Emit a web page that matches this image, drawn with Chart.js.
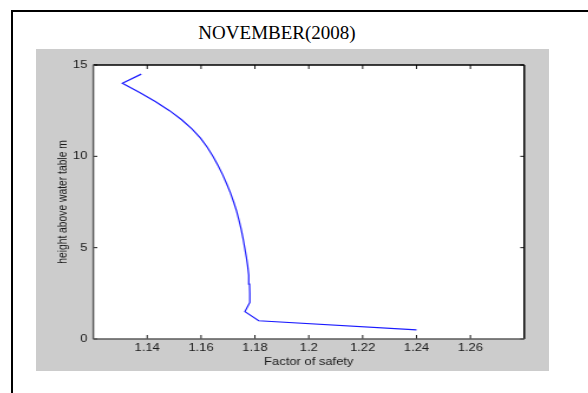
<!DOCTYPE html>
<html>
<head>
<meta charset="utf-8">
<script src="https://cdn.jsdelivr.net/npm/chart.js@4"></script>
<style>
  html, body { margin: 0; padding: 0; background: #fff; width: 588px; height: 393px; overflow: hidden; position: relative; }
  #topline { position: absolute; left: 11px; top: 10px; width: 577px; height: 2px; background: #000; }
  #leftline { position: absolute; left: 11px; top: 10px; width: 2px; height: 383px; background: #000; }
  #title { position: absolute; left: 0; top: 22.6px; width: 554px; text-align: center;
           font-family: "Liberation Serif", "Times New Roman", serif; font-size: 19px; line-height: 20px; color: #000; }
  #wrap { position: absolute; left: 36px; top: 49px; width: 435px; height: 322px;
          transform: scaleX(1.18); transform-origin: 0 0; }
  canvas { background: #cccccc; display: block; }
</style>
</head>
<body>
<div id="topline"></div>
<div id="leftline"></div>
<div id="title">NOVEMBER(2008)</div>
<div id="wrap"><canvas id="c" width="435" height="322"></canvas></div>
<script>
// Height above water table (m)
const heights = [0.5, 1.0, 1.5, 2.0, 2.5, 3.0, 3.5, 4.0, 4.5, 5.0, 5.5, 6.0, 6.5, 7.0, 7.5,
                 8.0, 8.5, 9.0, 9.5, 10.0, 10.5, 11.0, 11.5, 12.0, 12.5, 13.0, 13.5, 14.0, 14.5];
// Factor of safety
const factorOfSafety = [1.2400, 1.1814, 1.1763, 1.1781, 1.1781, 1.1780, 1.1777, 1.1773, 1.1768, 1.1762,
                        1.1756, 1.1749, 1.1741, 1.1732, 1.1721, 1.1709, 1.1695, 1.1680, 1.1663, 1.1644,
                        1.1623, 1.1598, 1.1566, 1.1528, 1.1483, 1.1430, 1.1372, 1.1308, 1.1378];
const xTickValues = [1.14, 1.16, 1.18, 1.20, 1.22, 1.24, 1.26];
const xTickLabels = ['1.14', '1.16', '1.18', '1.2', '1.22', '1.24', '1.26'];
const yTickValues = [0, 5, 10, 15];
const yTickLabels = ['0', '5', '10', '15'];

const points = heights.map((h, i) => ({ x: factorOfSafety[i], y: h }));

const frame = {
  id: 'frame',
  beforeDraw(chart) {
    const { ctx, chartArea: a } = chart;
    ctx.save();
    ctx.fillStyle = '#ffffff';
    ctx.fillRect(a.left, a.top, a.right - a.left, a.bottom - a.top);
    ctx.restore();
  },
  afterDraw(chart) {
    const { ctx, chartArea: a, scales: { x, y } } = chart;
    const line = (x1, y1, x2, y2) => { ctx.beginPath(); ctx.moveTo(x1, y1); ctx.lineTo(x2, y2); ctx.stroke(); };
    ctx.save();
    ctx.lineWidth = 1;
    ctx.strokeStyle = '#1a1a1a';
    x.ticks.forEach(t => {
      const px = x.getPixelForValue(t.value);
      line(px, a.bottom, px, a.bottom - 4);
      line(px, a.top, px, a.top + 4);
    });
    y.ticks.forEach(t => {
      const py = y.getPixelForValue(t.value);
      line(a.left, py, a.left + 3.4, py);
      line(a.right, py, a.right - 3.4, py);
    });
    ctx.lineWidth = 1.5;
    ctx.strokeStyle = '#000000';
    line(a.left, a.top, a.right, a.top);
    line(a.right, a.top, a.right, a.bottom);
    ctx.strokeStyle = '#5a5a5a';
    line(a.left, a.bottom, a.right, a.bottom);
    line(a.left, a.top, a.left, a.bottom);
    ctx.restore();
  }
};

const tickFont = { family: '"Liberation Sans", Arial, sans-serif', size: 11 };

new Chart(document.getElementById('c'), {
  type: 'scatter',
  data: {
    datasets: [{
      data: points,
      showLine: true,
      borderColor: '#1a1aff',
      borderWidth: 1.2,
      pointRadius: 0,
      pointHoverRadius: 0,
      tension: 0,
      fill: false
    }]
  },
  options: {
    responsive: false,
    animation: false,
    events: [],
    layout: { padding: { top: 16, right: 21.2, bottom: 0, left: 0 } },
    plugins: { legend: { display: false }, tooltip: { enabled: false }, title: { display: false } },
    scales: {
      x: {
        type: 'linear',
        min: 1.12, max: 1.28,
        grid: { display: false, drawTicks: false },
        border: { display: false },
        afterBuildTicks: s => { s.ticks = xTickValues.map(v => ({ value: v })); },
        afterFit: s => { s.height = 32; },
        ticks: {
          autoSkip: false, maxRotation: 0, padding: 2.4,
          color: '#1a1a1a', font: tickFont,
          callback: (v, i) => xTickLabels[i]
        },
        title: {
          display: true, text: 'Factor of safety', color: '#1a1a1a', font: tickFont,
          padding: { top: 0, bottom: 2.4 }
        }
      },
      y: {
        type: 'linear',
        min: 0, max: 15,
        grid: { display: false, drawTicks: false },
        border: { display: false },
        afterBuildTicks: s => { s.ticks = yTickValues.map(v => ({ value: v })); },
        afterFit: s => { s.width = 48.6; },
        ticks: {
          autoSkip: false, padding: 5,
          color: '#1a1a1a', font: tickFont,
          callback: (v, i) => yTickLabels[i]
        },
        title: {
          display: true, text: 'height above water table m', color: '#1a1a1a', font: { family: tickFont.family, size: 10.3 },
          padding: { top: 16.6, bottom: 0 }
        }
      }
    }
  },
  plugins: [frame]
});
</script>
</body>
</html>
